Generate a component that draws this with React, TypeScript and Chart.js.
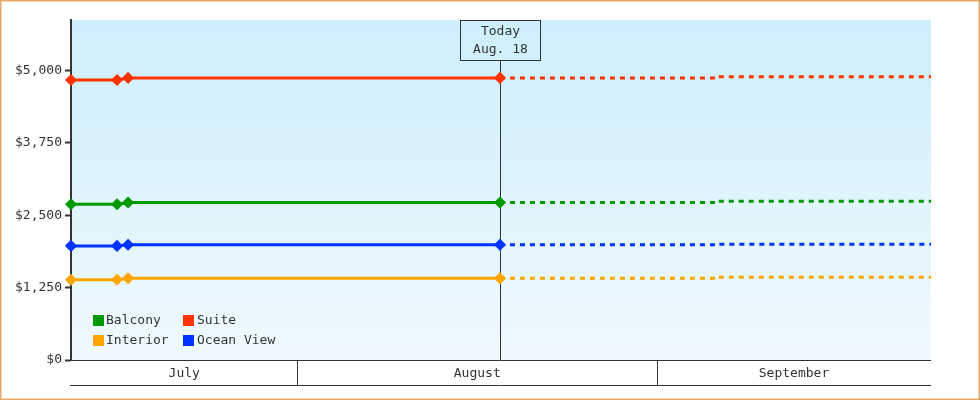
import React, { useEffect, useRef } from "react";
import { Chart, registerables } from "chart.js";

Chart.register(...registerables);

// ---- data ----
const seriesNames = ["Balcony", "Suite", "Interior", "Ocean View"];
const seriesColors = ["#009900", "#FF3300", "#FFA500", "#0033FF"];

// x values are day numbers counted from July 1 (= 0)
const historyDays = [11.47, 15.44, 16.39, 48.46];
const balconyHistory = [2690, 2690, 2720, 2720];
const suiteHistory = [4835, 4835, 4870, 4870];
const interiorHistory = [1385, 1385, 1410, 1410];
const oceanViewHistory = [1970, 1970, 1990, 1990];

const projectionDays = [48.46, 67, 67, 85.63];
const balconyProjection = [2720, 2720, 2740, 2740];
const suiteProjection = [4870, 4870, 4890, 4890];
const interiorProjection = [1410, 1410, 1430, 1430];
const oceanViewProjection = [1990, 1990, 2000, 2000];

const monthNames = ["July", "August", "September"];
const monthStartDays = [0, 31, 62, 92];

const xMin = 11.47;
const xMax = 85.63;
const yTicks = [0, 1250, 2500, 3750, 5000];
const yMax = 5870;

const todayDay = 48.46;
const todayLabels = ["Today", "Aug. 18"];

const FONT = '13px "DejaVu Sans Mono", "Liberation Mono", monospace';
const INK = "#333333";

const histories = [balconyHistory, suiteHistory, interiorHistory, oceanViewHistory];
const projections = [balconyProjection, suiteProjection, interiorProjection, oceanViewProjection];

const decorPlugin = {
  id: "decor",
  beforeDraw(chart: any) {
    const { ctx, chartArea: a } = chart;
    ctx.save();
    ctx.fillStyle = "#ffffff";
    ctx.fillRect(0, 0, chart.width, chart.height);
    const g = ctx.createLinearGradient(0, a.top, 0, a.bottom);
    g.addColorStop(0, "#CDEFFC");
    g.addColorStop(1, "#F0F9FE");
    ctx.fillStyle = g;
    ctx.fillRect(a.left, a.top, a.right - a.left, a.bottom - a.top);
    ctx.restore();
  },
  beforeDatasetsDraw(chart: any) {
    const { ctx, chartArea: a, scales } = chart;
    const x = Math.round(scales.x.getPixelForValue(todayDay)) + 0.5;
    ctx.save();
    ctx.strokeStyle = INK;
    ctx.lineWidth = 1;
    ctx.beginPath();
    ctx.moveTo(x, a.top + 40);
    ctx.lineTo(x, a.bottom);
    ctx.stroke();
    ctx.restore();
  },
  afterDraw(chart: any) {
    const { ctx, chartArea: a, scales } = chart;
    const xs = scales.x;
    ctx.save();
    ctx.font = FONT;
    ctx.fillStyle = INK;
    ctx.strokeStyle = INK;
    ctx.lineWidth = 1;

    // today box
    const tx = Math.round(xs.getPixelForValue(todayDay)) + 0.5;
    ctx.strokeRect(tx - 40, a.top + 0.5, 80, 40);
    ctx.textAlign = "center";
    ctx.textBaseline = "middle";
    ctx.fillText(todayLabels[0], tx, a.top + 12);
    ctx.fillText(todayLabels[1], tx, a.top + 30);

    // month band axis
    const bandTop = a.bottom;
    const bandBottom = a.bottom + 25;
    ctx.beginPath();
    ctx.moveTo(a.left - 1, bandTop + 0.5);
    ctx.lineTo(a.right, bandTop + 0.5);
    ctx.moveTo(a.left - 1, bandBottom + 0.5);
    ctx.lineTo(a.right, bandBottom + 0.5);
    for (let i = 1; i < monthStartDays.length - 1; i++) {
      const px = Math.round(xs.getPixelForValue(monthStartDays[i])) + 0.5;
      ctx.moveTo(px, bandTop);
      ctx.lineTo(px, bandBottom);
    }
    ctx.stroke();
    for (let i = 0; i < monthNames.length; i++) {
      const l = Math.max(a.left, xs.getPixelForValue(monthStartDays[i]));
      const r = Math.min(a.right, xs.getPixelForValue(monthStartDays[i + 1]));
      ctx.fillText(monthNames[i], (l + r) / 2, (bandTop + bandBottom) / 2 + 1);
    }

    // legend inside chart area
    ctx.textAlign = "left";
    for (let i = 0; i < seriesNames.length; i++) {
      const col = i % 2;
      const row = Math.floor(i / 2);
      const sx = a.left + 22 + col * 90;
      const sy = a.bottom - 45 + row * 20;
      ctx.fillStyle = seriesColors[i];
      ctx.fillRect(sx, sy, 11, 11);
      ctx.fillStyle = INK;
      ctx.fillText(seriesNames[i], sx + 13 + col, sy + 6);
    }

    // outer frame
    ctx.strokeStyle = "#E8A862";
    ctx.lineWidth = 1.5;
    ctx.strokeRect(0.75, 0.75, chart.width - 1.5, chart.height - 1.5);
    ctx.restore();
  },
};

export default function App() {
  const ref = useRef<HTMLCanvasElement>(null);
  useEffect(() => {
    if (!ref.current) return;
    const datasets: any[] = [];
    seriesNames.forEach((name, i) => {
      datasets.push({
        label: name,
        data: historyDays.map((d, j) => ({ x: d, y: histories[i][j] })),
        borderColor: seriesColors[i],
        backgroundColor: seriesColors[i],
        borderWidth: 3,
        pointStyle: "rectRot",
        pointRadius: 5,
        pointHoverRadius: 5,
        pointBorderWidth: 1.5,
        pointBorderColor: seriesColors[i],
        clip: false,
        tension: 0,
      });
      datasets.push({
        label: name + " projection",
        data: projectionDays.map((d, j) => ({ x: d, y: projections[i][j] })),
        borderColor: seriesColors[i],
        backgroundColor: seriesColors[i],
        borderWidth: 3,
        borderDash: [5, 5],
        borderCapStyle: "butt",
        pointRadius: 0,
        clip: false,
        tension: 0,
      });
    });
    const chart = new Chart(ref.current, {
      type: "line",
      data: { datasets },
      options: {
        responsive: false,
        animation: false,
        devicePixelRatio: 1,
        layout: { padding: { top: 20, right: 49, bottom: 40, left: 0 } },
        plugins: { legend: { display: false }, tooltip: { enabled: false } },
        scales: {
          x: { type: "linear", min: xMin, max: xMax, display: false },
          y: {
            type: "linear",
            min: 0,
            max: yMax,
            afterFit: (s: any) => {
              s.width = 71;
            },
            afterBuildTicks: (s: any) => {
              s.ticks = yTicks.map((v) => ({ value: v }));
            },
            border: { display: true, color: INK, width: 2 },
            grid: {
              drawOnChartArea: false,
              drawTicks: true,
              tickLength: 6,
              tickWidth: 2,
              tickColor: INK,
              color: INK,
            },
            ticks: {
              padding: 3,
              color: INK,
              font: { family: '"DejaVu Sans Mono", "Liberation Mono", monospace', size: 13 },
              callback: (v: any) => "$" + Number(v).toLocaleString("en-US"),
            },
          },
        },
      },
      plugins: [decorPlugin],
    } as any);
    return () => chart.destroy();
  }, []);
  return (
    <div style={{ position: "fixed", left: 0, top: 0, width: 980, height: 400 }}>
      <canvas ref={ref} width={980} height={400} />
    </div>
  );
}
